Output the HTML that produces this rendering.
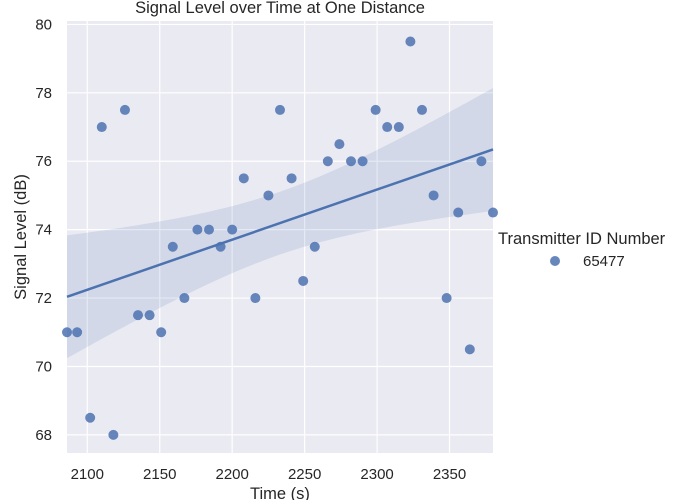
<!DOCTYPE html>
<html><head><meta charset="utf-8"><style>
body{margin:0;background:#fff;}
svg{display:block;font-family:"Liberation Sans",Arial,sans-serif;}
</style></head><body>
<svg id="chart" width="681" height="500" xmlns="http://www.w3.org/2000/svg"></svg>
<script>
const times=[2086,2093,2102,2110,2118,2126,2135,2143,2151,2159,2167,2176,2184,2192,2200,2208,2216,2225,2233,2241,2249,2257,2266,2274,2282,2290,2299,2307,2315,2323,2331,2339,2348,2356,2364,2372,2380];
const levels=[71,71,68.5,77,68,77.5,71.5,71.5,71,73.5,72,74,74,73.5,74,75.5,72,75,77.5,75.5,72.5,73.5,76,76.5,76,76,77.5,77,77,79.5,77.5,75,72,74.5,70.5,76,74.5];
const xTicks=[2100,2150,2200,2250,2300,2350];
const yTicks=[68,70,72,74,76,78,80];
const legendLabels=["65477"];

const L=67,R=493,T=21,B=453;
const xMin=2086,xMax=2380,yMin=67.47,yMax=80.1;
const sx=v=>L+(v-xMin)/(xMax-xMin)*(R-L);
const sy=v=>B-(v-yMin)/(yMax-yMin)*(B-T);
const svg=document.getElementById('chart');
const NS='http://www.w3.org/2000/svg';
function mk(tag,attrs,parent){const e=document.createElementNS(NS,tag);for(const k in attrs)e.setAttribute(k,attrs[k]);(parent||svg).appendChild(e);return e;}

const bg=mk('rect',{x:L,y:T,width:R-L,height:B-T,fill:'#eaeaf2'});


xTicks.forEach(t=>{
  const g=mk('line',{x1:sx(t),x2:sx(t),y1:T,y2:B,stroke:'#fff','stroke-width':1.2});
  
  
  const tx=mk('text',{x:sx(t),y:B+26,'text-anchor':'middle','font-size':15,fill:'#262626'});
  tx.textContent=t;
  
  
});
yTicks.forEach(t=>{
  const g=mk('line',{x1:L,x2:R,y1:sy(t),y2:sy(t),stroke:'#fff','stroke-width':1.2});
  
  
  const tx=mk('text',{x:L-15,y:sy(t)+5,'text-anchor':'end','font-size':15,fill:'#262626'});
  tx.textContent=t;
  
  
});

const n=times.length;
const mx=times.reduce((a,b)=>a+b)/n,my=levels.reduce((a,b)=>a+b)/n;
let sxx=0,sxy=0;for(let i=0;i<n;i++){sxx+=(times[i]-mx)**2;sxy+=(times[i]-mx)*(levels[i]-my);}
const slope=sxy/sxx,ic=my-slope*mx;
let sse=0;for(let i=0;i<n;i++)sse+=(levels[i]-ic-slope*times[i])**2;
const s=Math.sqrt(sse/(n-2)),tval=2.3;
const up=[],lo=[];
for(let k=0;k<=60;k++){const x=xMin+(xMax-xMin)*k/60;const yh=ic+slope*x;const se=s*Math.sqrt(1/n+(x-mx)**2/sxx);up.push(sx(x)+','+sy(yh+tval*se));lo.unshift(sx(x)+','+sy(yh-tval*se));}
const band=mk('polygon',{points:up.concat(lo).join(' '),fill:'#4c72b0','fill-opacity':0.15});



times.forEach((t,i)=>{
  const c=mk('circle',{cx:sx(t),cy:sy(levels[i]),r:5,fill:'#4c72b0','fill-opacity':0.85});
  
  
});
const rl=mk('line',{x1:sx(xMin),y1:sy(ic+slope*xMin),x2:sx(xMax),y2:sy(ic+slope*xMax),stroke:'#4c72b0','stroke-width':2.5});



const title=mk('text',{x:280,y:13,'text-anchor':'middle','font-size':16.5,fill:'#262626'});
title.textContent='Signal Level over Time at One Distance';


const xl=mk('text',{x:280,y:499,'text-anchor':'middle','font-size':16.5,fill:'#262626'});
xl.textContent='Time (s)';


const yl=mk('text',{x:0,y:0,'text-anchor':'middle','font-size':16.5,fill:'#262626',transform:'translate(26,237) rotate(-90)'});
yl.textContent='Signal Level (dB)';



const lt=mk('text',{x:498,y:244,'font-size':16.5,fill:'#262626'});
lt.textContent='Transmitter ID Number';


legendLabels.forEach((lab,i)=>{
  const d=mk('circle',{cx:555,cy:261+i*22,r:5,fill:'#4c72b0','fill-opacity':0.85});
  
  
  const tx=mk('text',{x:583,y:266+i*22,'font-size':15,fill:'#262626'});
  tx.textContent=lab;
  
  
});
</script>
</body></html>
